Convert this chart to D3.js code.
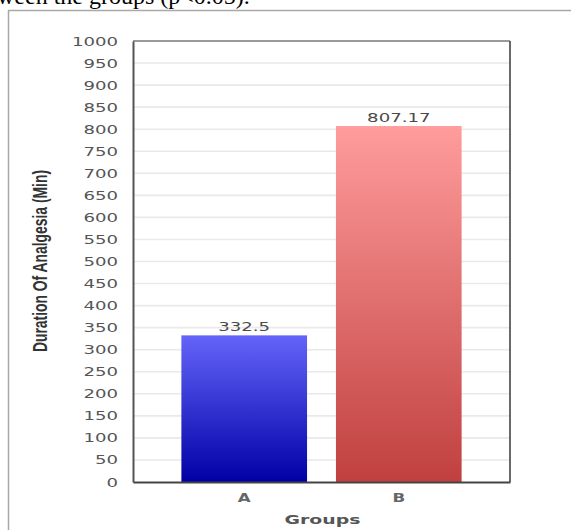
<!DOCTYPE html>
<html>
<head>
<meta charset="utf-8">
<script src="https://cdn.jsdelivr.net/npm/d3@7"></script>
<style>
  html, body { margin: 0; padding: 0; background: #fff; }
  svg { display: block; }
</style>
</head>
<body>
<svg id="chart" width="571" height="530"></svg>
<script>
// Duration of analgesia per group
const groups = ["A", "B"];
const durations = [332.5, 807.17];
const durationLabels = ["332.5", "807.17"];
const yTicks = d3.range(0, 1001, 50);

const svg = d3.select("#chart");
const W = 571, H = 530;
const plot = { left: 133, right: 510, top: 41, bottom: 482 };
const stretch = 1.45; // wide lettering used for axis text

// Caption line of the surrounding document, cut at the top edge
svg.append("text")
  .attr("x", -3).attr("y", 4)
  .attr("font-family", "'Liberation Serif', 'Times New Roman', serif")
  .attr("font-size", 24)
  .attr("fill", "#000")
  .text("ween the groups (p<0.05).");

// Outer panel edges
svg.append("line").attr("x1", 8).attr("x2", W).attr("y1", 10.5).attr("y2", 10.5)
  .attr("stroke", "#a8a8a8").attr("stroke-width", 1.5);
svg.append("line").attr("x1", 8.5).attr("x2", 8.5).attr("y1", 10).attr("y2", H)
  .attr("stroke", "#a8a8a8").attr("stroke-width", 1.5);

const x = d3.scaleBand()
  .domain(groups)
  .range([plot.left, plot.right])
  .paddingInner(0.187)
  .paddingOuter(0.313);

const y = d3.scaleLinear()
  .domain([0, 1000])
  .range([plot.bottom, plot.top]);

// Gradients for the bars
const defs = svg.append("defs");
const grads = [
  { id: "gradA", top: "#6464fa", bottom: "#0000a6" },
  { id: "gradB", top: "#ff9c9c", bottom: "#c0403f" }
];
grads.forEach(g => {
  const lg = defs.append("linearGradient").attr("id", g.id)
    .attr("x1", 0).attr("y1", 0).attr("x2", 0).attr("y2", 1);
  lg.append("stop").attr("offset", "0%").attr("stop-color", g.top);
  lg.append("stop").attr("offset", "100%").attr("stop-color", g.bottom);
});

// Horizontal grid lines
svg.append("g")
  .selectAll("line")
  .data(yTicks.filter(t => t > 0 && t < 1000))
  .join("line")
  .attr("x1", plot.left).attr("x2", plot.right)
  .attr("y1", d => y(d)).attr("y2", d => y(d))
  .attr("stroke", "#e9e9e9").attr("stroke-width", 1.6);

// Bars
svg.append("g")
  .selectAll("rect")
  .data(groups)
  .join("rect")
  .attr("x", d => x(d))
  .attr("width", x.bandwidth())
  .attr("y", (d, i) => y(durations[i]))
  .attr("height", (d, i) => y(0) - y(durations[i]))
  .attr("fill", (d, i) => `url(#${grads[i].id})`);

// Value labels above bars
svg.append("g")
  .selectAll("text")
  .data(groups)
  .join("text")
  .attr("transform", (d, i) =>
    `translate(${x(d) + x.bandwidth() / 2},${y(durations[i]) - 4}) scale(${stretch},1)`)
  .attr("text-anchor", "middle")
  .attr("font-family", "'DejaVu Sans', Verdana, sans-serif")
  .attr("font-size", 12.5)
  .attr("fill", "#4a4a4a")
  .text((d, i) => durationLabels[i]);

// Plot frame
svg.append("line").attr("x1", plot.left).attr("x2", plot.right)
  .attr("y1", plot.top).attr("y2", plot.top)
  .attr("stroke", "#9a9a9a").attr("stroke-width", 2);
svg.append("line").attr("x1", plot.right).attr("x2", plot.right)
  .attr("y1", plot.top).attr("y2", plot.bottom)
  .attr("stroke", "#444").attr("stroke-width", 1.6);

// Y axis
const yAxis = svg.append("g")
  .attr("transform", `translate(${plot.left},0)`)
  .call(d3.axisLeft(y).tickValues(yTicks).tickFormat(d3.format("d")).tickSize(0).tickPadding(0));
yAxis.select(".domain").attr("stroke", "#555").attr("stroke-width", 2);
yAxis.selectAll("text")
  .attr("x", -15 / stretch)
  .attr("transform", `scale(${stretch},1)`)
  .attr("font-family", "'DejaVu Sans', Verdana, sans-serif")
  .attr("font-size", 12.5)
  .attr("fill", "#555");

// X axis
const xAxis = svg.append("g")
  .attr("transform", `translate(0,${plot.bottom})`)
  .call(d3.axisBottom(x).tickSize(0).tickPadding(0));
xAxis.select(".domain").attr("stroke", "#444").attr("stroke-width", 2);
xAxis.selectAll("text")
  .attr("y", 12)
  .attr("transform", `scale(${stretch},1)`)
  .attr("font-family", "'DejaVu Sans', Verdana, sans-serif")
  .attr("font-weight", "bold")
  .attr("font-size", 11.5)
  .attr("fill", "#666");
xAxis.selectAll(".tick").attr("transform", d => `translate(${x(d) + x.bandwidth() / 2},0)`);

// Axis titles
svg.append("text")
  .attr("transform", `translate(${(plot.left + plot.right) / 2 + 1},524) scale(${stretch},1)`)
  .attr("text-anchor", "middle")
  .attr("font-family", "'DejaVu Sans', Verdana, sans-serif")
  .attr("font-weight", "bold")
  .attr("font-size", 13)
  .attr("fill", "#555")
  .text("Groups");

svg.append("text")
  .attr("transform", "translate(47,261) rotate(-90)")
  .attr("text-anchor", "middle")
  .attr("font-family", "'Liberation Sans Narrow', 'Liberation Sans', Arial, sans-serif")
  .attr("font-weight", "bold")
  .attr("font-size", 20)
  .attr("textLength", 182)
  .attr("lengthAdjust", "spacingAndGlyphs")
  .attr("fill", "#333")
  .text("Duration Of Analgesia (Min)");
</script>
</body>
</html>
